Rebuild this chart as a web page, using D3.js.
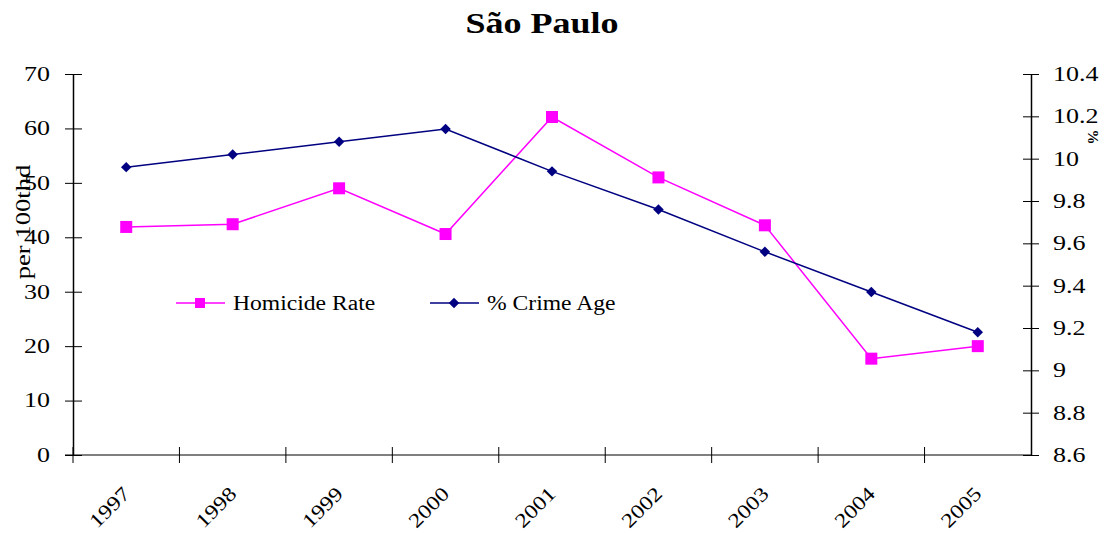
<!DOCTYPE html>
<head>
	<meta charset="utf-8" />
	<style>
		body {
			margin: 0;
			background-color: #fff;
			overflow: hidden;
		}
		svg text {
			font-family: 'Liberation Serif', 'Times New Roman', serif;
			fill: #000;
		}
	</style>
</head>

<body>
	<svg id="chart" width="1112" height="541"></svg>

	<script src="https://cdnjs.cloudflare.com/ajax/libs/d3/7.8.5/d3.min.js"></script>

	<script>
		// values
		const years = ['1997', '1998', '1999', '2000', '2001', '2002', '2003', '2004', '2005'];
		const homicideRate = [41.9, 42.4, 49.0, 40.6, 62.1, 51.0, 42.2, 17.7, 20.0];
		const crimeAge = [9.96, 10.02, 10.08, 10.14, 9.94, 9.76, 9.56, 9.37, 9.18];
		const leftTicks = [0, 10, 20, 30, 40, 50, 60, 70];
		const rightTicks = [8.6, 8.8, 9, 9.2, 9.4, 9.6, 9.8, 10, 10.2, 10.4];

		const width = 1112, height = 541;
		const margins = { top: 74, right: 81, bottom: 86, left: 73 };
		const pink = '#ff00ff', navy = '#000080';

		const svg = d3.select('#chart');

		const x = d3.scaleBand()
			.domain(years)
			.range([margins.left, width - margins.right]);
		const yLeft = d3.scaleLinear()
			.domain([0, 70])
			.range([height - margins.bottom, margins.top]);
		const yRight = d3.scaleLinear()
			.domain([8.6, 10.4])
			.range([height - margins.bottom, margins.top]);

		// old excel text is wider than Times, so stretch it a bit
		function stretch(sel, k) {
			sel.each(function () {
				const w = this.getComputedTextLength();
				this.setAttribute('textLength', w * k);
				this.setAttribute('lengthAdjust', 'spacingAndGlyphs');
			});
		}

		// title
		svg.append('text')
			.attr('x', 542)
			.attr('y', 33)
			.attr('text-anchor', 'middle')
			.style('font-size', '30px')
			.style('font-weight', 'bold')
			.text('São Paulo')
			.call(stretch, 1.2);

		// left axis
		const gLeft = svg.append('g')
			.attr('transform', `translate(${margins.left},0)`)
			.call(d3.axisLeft(yLeft).tickValues(leftTicks).tickSizeInner(8).tickSizeOuter(0).tickPadding(15));
		gLeft.selectAll('.tick line').attr('x1', 9);
		gLeft.selectAll('.tick text').style('font-size', '20px').call(stretch, 1.3);

		// right axis
		const gRight = svg.append('g')
			.attr('transform', `translate(${width - margins.right},0)`)
			.call(d3.axisRight(yRight).tickValues(rightTicks)
				.tickFormat(d => String(+d.toFixed(1)))
				.tickSizeInner(8).tickSizeOuter(0).tickPadding(14));
		gRight.selectAll('.tick line').attr('x1', -8);
		gRight.selectAll('.tick text').style('font-size', '20px').call(stretch, 1.3);

		// x axis
		const gX = svg.append('g')
			.attr('transform', `translate(0,${height - margins.bottom})`);
		gX.append('line')
			.attr('x1', margins.left - 8)
			.attr('x2', width - margins.right)
			.attr('stroke', '#000');
		gX.selectAll('.xtick')
			.data(years)
			.join('line')
			.attr('class', 'xtick')
			.attr('x1', d => x(d))
			.attr('x2', d => x(d))
			.attr('y1', -8)
			.attr('y2', 8)
			.attr('stroke', '#000');
		gX.selectAll('.xlabel')
			.data(years)
			.join('text')
			.attr('class', 'xlabel')
			.attr('text-anchor', 'end')
			.attr('transform', d => `translate(${x(d) + x.bandwidth() / 2 + 5},40) rotate(-45)`)
			.style('font-size', '20px')
			.text(d => d)
			.call(stretch, 1.2);

		svg.selectAll('.domain').attr('stroke', '#000').attr('stroke-width', 1.5);
		svg.selectAll('.tick line').attr('stroke', '#000');

		// axis titles
		svg.append('text')
			.attr('transform', 'translate(30,222) rotate(-90)')
			.attr('text-anchor', 'middle')
			.style('font-size', '20px')
			.text('per 100thd')
			.call(stretch, 1.33);
		svg.append('text')
			.attr('transform', 'translate(1088,137) rotate(90)')
			.attr('text-anchor', 'middle')
			.style('font-size', '15px')
			.style('font-weight', 'bold')
			.text('%');

		const cx = (d, i) => x(years[i]) + x.bandwidth() / 2;

		// homicide rate (left scale)
		svg.append('path')
			.datum(homicideRate)
			.attr('fill', 'none')
			.attr('stroke', pink)
			.attr('stroke-width', 1.5)
			.attr('d', d3.line().x(cx).y(d => yLeft(d)));
		svg.selectAll('.sq')
			.data(homicideRate)
			.join('rect')
			.attr('class', 'sq')
			.attr('x', (d, i) => cx(d, i) - 6)
			.attr('y', d => yLeft(d) - 6)
			.attr('width', 12)
			.attr('height', 12)
			.attr('fill', pink);

		// crime age share (right scale)
		const diamond = d3.symbol().type(d3.symbolDiamond2).size(70);
		svg.append('path')
			.datum(crimeAge)
			.attr('fill', 'none')
			.attr('stroke', navy)
			.attr('stroke-width', 1.5)
			.attr('d', d3.line().x(cx).y(d => yRight(d)));
		svg.selectAll('.dia')
			.data(crimeAge)
			.join('path')
			.attr('class', 'dia')
			.attr('transform', (d, i) => `translate(${cx(d, i)},${yRight(d)})`)
			.attr('d', diamond)
			.attr('fill', navy);

		// legend
		const legend = svg.append('g');
		const items = [
			{ name: 'Homicide Rate', color: pink, x: 176, mark: 'square' },
			{ name: '% Crime Age', color: navy, x: 430, mark: 'diamond' },
		];
		items.forEach(it => {
			const g = legend.append('g').attr('transform', `translate(${it.x},303)`);
			g.append('line')
				.attr('x1', 0).attr('x2', 49)
				.attr('stroke', it.color)
				.attr('stroke-width', 1.5);
			if (it.mark === 'square') {
				g.append('rect')
					.attr('x', 19).attr('y', -5)
					.attr('width', 10).attr('height', 10)
					.attr('fill', it.color);
			} else {
				g.append('path')
					.attr('transform', 'translate(24,0)')
					.attr('d', diamond)
					.attr('fill', it.color);
			}
			g.append('text')
				.attr('x', 57)
				.attr('y', 7)
				.style('font-size', '20px')
				.text(it.name)
				.call(stretch, 1.18);
		});
	</script>
</body>
